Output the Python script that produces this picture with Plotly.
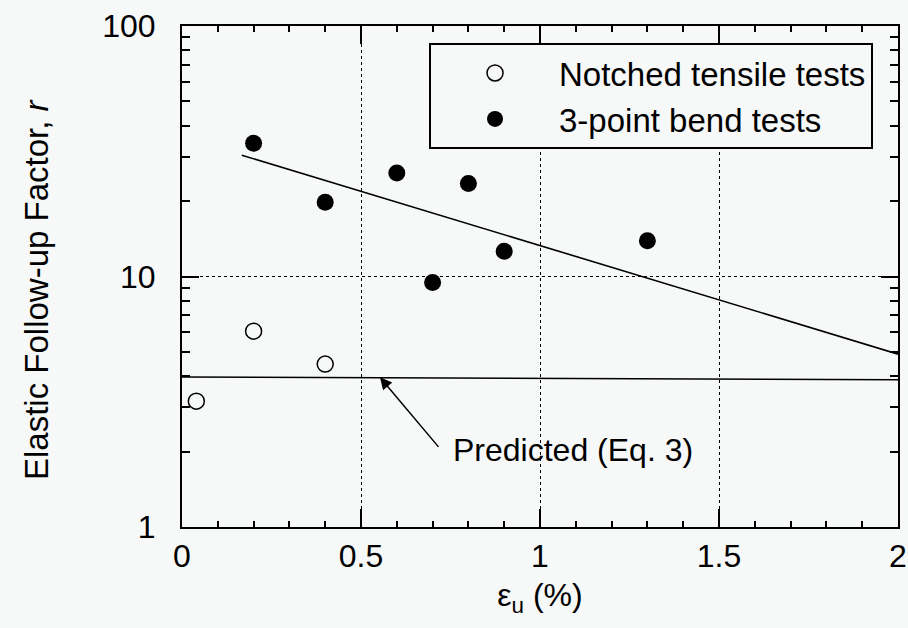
import math
import plotly.graph_objects as go

# Data
notched_x = [0.04, 0.2, 0.4]
notched_r = [3.18, 6.05, 4.47]

bend_x = [0.2, 0.4, 0.6, 0.7, 0.8, 0.9, 1.3]
bend_r = [34.0, 19.8, 25.9, 9.46, 23.5, 12.6, 13.9]

fit_x = [0.167, 2.0]
fit_r = [30.5, 4.9]

pred_x = [0.0, 2.0]
pred_r = [3.97, 3.87]

arrow_tip = (0.553, 3.96)
arrow_tail = (0.72, 2.06)
label_pos = (0.752, 2.03)

x_ticks = [0, 0.5, 1, 1.5, 2]
x_ticktext = ["0", "0.5", "1", "1.5", "2"]
y_ticks = [1, 10, 100]
y_ticktext = ["1", "10", "100"]

BG = "#f7f8f8"
FONT = "Liberation Sans, Arial, Helvetica, sans-serif"

fig = go.Figure()

fig.add_trace(go.Scatter(
    x=fit_x, y=fit_r, mode="lines", line=dict(color="black", width=1.6),
    showlegend=False, hoverinfo="skip"))
fig.add_trace(go.Scatter(
    x=pred_x, y=pred_r, mode="lines", line=dict(color="black", width=1.6),
    showlegend=False, hoverinfo="skip"))

fig.add_trace(go.Scatter(
    x=notched_x, y=notched_r, mode="markers",
    name="Notched tensile tests",
    marker=dict(symbol="circle-open", size=16, color="black", line=dict(width=1.5))))
fig.add_trace(go.Scatter(
    x=bend_x, y=bend_r, mode="markers",
    name="3-point bend tests",
    marker=dict(symbol="circle", size=17, color="black")))

# arrow (log axis -> annotation coords in log10 units)
fig.add_annotation(
    x=arrow_tip[0], y=math.log10(arrow_tip[1]),
    ax=arrow_tail[0], ay=math.log10(arrow_tail[1]),
    xref="x", yref="y", axref="x", ayref="y", text="",
    showarrow=True, arrowhead=2, arrowsize=1.6, arrowwidth=1.5, arrowcolor="black")
fig.add_annotation(
    x=label_pos[0], y=math.log10(label_pos[1]), xref="x", yref="y",
    text="Predicted (Eq. 3)",
    showarrow=False, xanchor="left", yanchor="middle",
    font=dict(size=32, color="black", family=FONT))

# y-axis title as annotation for exact placement
fig.add_annotation(
    x=0, y=0.475, xref="paper", yref="paper", xshift=-146,
    text="Elastic Follow-up Factor, <i>r</i>", textangle=-90,
    showarrow=False, xanchor="center", yanchor="middle",
    font=dict(size=33, color="black", family=FONT))

fig.update_layout(
    width=908, height=628,
    margin=dict(l=182, r=10, t=26, b=101, autoexpand=False),
    paper_bgcolor=BG, plot_bgcolor=BG,
    font=dict(family=FONT, size=32, color="black"),
    legend=dict(
        x=0.345, y=0.966, xanchor="left", yanchor="top",
        bgcolor=BG, bordercolor="black", borderwidth=2,
        font=dict(size=33, family=FONT, color="black"),
        tracegroupgap=0, itemwidth=118),
    showlegend=True,
)

fig.update_xaxes(
    range=[0, 2], tickvals=x_ticks, ticktext=x_ticktext, automargin=False,
    showline=True, linecolor="black", linewidth=2, mirror="allticks",
    ticks="inside", ticklen=18, tickwidth=2, tickcolor="black",
    minor=dict(dtick=0.1, ticks="inside", ticklen=6, tickwidth=1.5, tickcolor="black", showgrid=False),
    showgrid=True, gridcolor="black", griddash="dot", gridwidth=1,
    zeroline=False,
    title=dict(text="ε<sub>u</sub> (%)", font=dict(size=32, family=FONT), standoff=10),
    tickfont=dict(size=32, family=FONT),
)
fig.update_yaxes(
    type="log", range=[0, 2], tickvals=y_ticks, ticktext=y_ticktext, automargin=False,
    showline=True, linecolor="black", linewidth=2, mirror="allticks",
    ticks="inside", ticklen=17, tickwidth=2, tickcolor="black",
    minor=dict(dtick="D1", ticks="inside", ticklen=8, tickwidth=1.5, tickcolor="black", showgrid=False),
    showgrid=True, gridcolor="black", griddash="dot", gridwidth=1,
    zeroline=False, ticklabelstandoff=18,
    tickfont=dict(size=32, family=FONT),
)

fig.write_html(
    "out.html",
    config={"displayModeBar": False},
    post_script="document.body.style.margin='0';document.body.style.overflow='hidden';",
)
